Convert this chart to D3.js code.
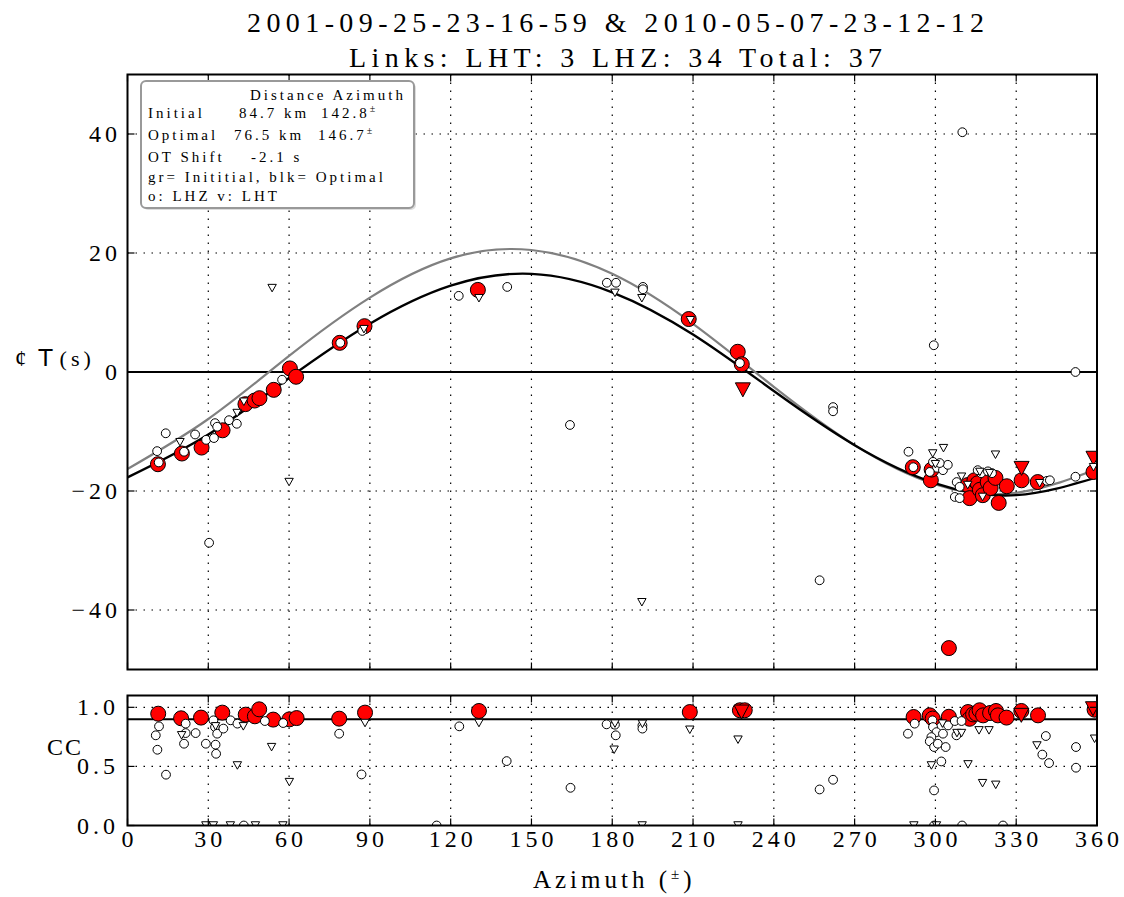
<!DOCTYPE html>
<html>
<head>
<meta charset="utf-8">
<script src="https://cdn.jsdelivr.net/npm/d3@7"></script>
<style>
  body { margin: 0; background: #fff; }
  text { font-family: "Liberation Serif", "DejaVu Serif", serif; fill: #000; }
</style>
</head>
<body>
<script>
// title + legend text
var titleLines = ["2001-09-25-23-16-59 & 2010-05-07-23-12-12", "Links: LHT: 3 LHZ: 34 Total: 37"];

// x ticks (azimuth), y ticks
var azTicks = [0, 30, 60, 90, 120, 150, 180, 210, 240, 270, 300, 330, 360];
var dtTicks = [-40, -20, 0, 20, 40];
var ccTicks = [0.0, 0.5, 1.0];

// model curves, every 30 deg
var curveAz    = [0, 30, 60, 90, 120, 150, 180, 210, 240, 270, 300, 330, 360];
var initialDt  = [-16.3, -7.9, 2.7, 12.5, 19.1, 20.5, 16.5, 8.1, -2.5, -12.3, -18.9, -20.3, -16.3];
var optimalDt  = [-17.7, -10.5, -1.0, 8.1, 14.5, 16.5, 13.4, 6.3, -3.2, -12.3, -18.7, -20.7, -17.7];

// top panel: [azimuth, dT]
var redCircTop = [[11.3,-15.5],[20.2,-13.7],[27.5,-12.7],[35.3,-9.8],[43.8,-5.4],[47.2,-4.8],[49.0,-4.4],[54.3,-3.0],[60.3,0.6],[62.6,-0.8],
  [78.8,4.9],[88.0,7.7],[130.1,13.8],[208.4,8.9],[226.6,3.4],[228.1,1.3],[291.6,-16.0],[298.3,-18.2],[298.6,-16.4],[305.0,-46.4],
  [312.0,-19.0],[312.7,-21.2],[314.5,-18.2],[315.7,-18.7],[316.5,-19.8],[317.6,-20.7],[319.4,-18.5],[320.5,-19.5],[322.3,-17.8],
  [323.5,-22.0],[326.5,-19.2],[332.0,-18.2],[338.0,-18.5],[358.7,-16.8]];
var redTriTop = [[228.5,-3.0],[332.0,-16.2],[358.7,-14.5]];
var openCircTop = [[11.6,-15.2],[11.0,-13.3],[14.2,-10.3],[21.0,-13.4],[25.1,-10.5],[29.2,-11.4],[32.1,-11.1],[32.5,-8.6],[33.3,-9.2],
  [37.7,-8.1],[40.6,-8.7],[30.3,-28.7],[57.4,-1.3],[79.0,4.9],[87.2,6.9],[123.0,12.8],[141.0,14.3],[178.0,15.0],[181.4,15.0],
  [191.4,14.3],[191.4,13.9],[164.3,-8.9],[227.4,1.5],[262.0,-5.9],[262.0,-6.6],[257.0,-35.0],[299.4,4.5],[310.0,40.3],[352.0,0.0],
  [290.0,-13.4],[291.8,-16.0],[299.1,-15.1],[300.6,-16.1],[302.8,-16.5],[304.6,-15.6],[301.6,-15.3],[297.9,-16.8],[307.2,-21.0],[309.0,-21.2],
  [307.9,-18.5],[309.0,-19.3],[317.0,-17.0],[315.7,-16.5],[319.5,-16.7],[321.0,-17.0],[341.4,-18.3],[342.5,-18.2],[352.0,-17.6]];
var openTriTop = [[19.5,-11.8],[40.7,-6.9],[43.2,-5.0],[60.0,-18.5],[53.7,14.1],[87.8,7.2],[130.5,12.4],[181.0,13.3],[191.0,12.4],
  [209.0,8.7],[191.0,-38.7],[299.0,-13.7],[303.0,-12.8],[322.3,-13.9],[300.0,-15.5],[309.7,-17.6],[312.0,-19.0],[316.5,-16.8],
  [320.1,-17.0],[317.5,-21.0],[338.7,-18.7],[358.7,-16.0]];

// bottom panel: [azimuth, CC]
var redCircBot = [[11.4,0.946],[19.9,0.907],[27.3,0.913],[35.2,0.955],[43.9,0.938],[47.3,0.924],[48.9,0.983],[54.1,0.896],[60.1,0.898],
  [62.8,0.909],[78.6,0.904],[88.2,0.955],[130.5,0.969],[208.8,0.960],[227.4,0.975],[229.2,0.975],[291.9,0.918],[297.9,0.932],
  [299.0,0.905],[305.0,0.920],[312.1,0.960],[312.7,0.903],[314.0,0.940],[315.2,0.946],[316.4,0.975],[317.7,0.932],[320.3,0.952],
  [322.5,0.969],[323.2,0.932],[326.4,0.913],[331.9,0.969],[338.1,0.932],[359.1,0.980]];
var redTriBot = [[228.0,0.960],[331.9,0.932],[358.5,0.988]];
var openCircBot = [[11.7,0.839],[10.5,0.763],[11.1,0.641],[14.3,0.430],[21.6,0.862],[21.6,0.782],[21.0,0.692],[25.3,0.782],[29.1,0.692],
  [31.9,0.890],[32.5,0.833],[33.3,0.777],[32.7,0.684],[32.9,0.607],[35.6,0.820],[38.3,0.890],[40.8,0.862],[43.2,0.0],[51.0,0.884],
  [57.8,0.867],[78.6,0.777],[86.9,0.432],[114.8,0.0],[123.2,0.839],[140.8,0.545],[164.5,0.319],[177.9,0.856],[181.0,0.853],
  [181.3,0.763],[191.2,0.847],[191.2,0.820],[257.0,0.305],[262.0,0.387],[289.8,0.777],[292.3,0.862],[298.9,0.890],[299.1,0.833],
  [300.4,0.790],[298.5,0.748],[297.9,0.712],[299.5,0.664],[300.9,0.692],[303.8,0.664],[302.8,0.777],[302.2,0.542],[299.5,0.297],
  [304.7,0.847],[307.2,0.884],[307.8,0.763],[309.7,0.884],[341.0,0.757],[339.7,0.600],[342.2,0.528],[352.2,0.664],[352.2,0.489],
  [299.5,0.0],[309.9,0.0],[325.1,0.0]];
var openTriBot = [[20.1,0.763],[32.7,0.839],[43.0,0.839],[40.8,0.508],[53.5,0.663],[60.1,0.367],[88.2,0.867],[29.1,0.0],[31.9,0.0],
  [38.2,0.0],[47.5,0.0],[57.7,0.0],[130.5,0.867],[181.0,0.862],[180.7,0.641],[191.2,0.860],[208.8,0.810],[226.7,0.726],[191.1,0.0],
  [226.7,0.0],[302.6,0.862],[308.0,0.782],[309.7,0.782],[316.2,0.805],[319.9,0.805],[298.5,0.508],[312.1,0.517],[317.5,0.358],
  [322.4,0.344],[337.7,0.677],[359.1,0.734],[292.0,0.0],[300.4,0.0]];

// layout
var width = 1124, height = 897;
var left = 127.5, right = 1097;
var top1 = 74.5, bot1 = 669.5;
var top2 = 695.5, bot2 = 825.5;

var svg = d3.select("body").append("svg")
    .attr("width", width)
    .attr("height", height);

var x = d3.scaleLinear().domain([0, 360]).range([left, right]);
var yT = d3.scaleLinear().domain([-50, 50]).range([bot1, top1]);
var yB = d3.scaleLinear().domain([0, 1.1]).range([bot2, top2]);

// clip paths for the two panels
var defs = svg.append("defs");
defs.append("clipPath").attr("id", "clipTop").append("rect")
    .attr("x", left).attr("y", top1).attr("width", right - left).attr("height", bot1 - top1);
defs.append("clipPath").attr("id", "clipBot").append("rect")
    .attr("x", left).attr("y", top2).attr("width", right - left).attr("height", bot2 - top2);

// titles
svg.selectAll(".title")
  .data(titleLines)
  .enter().append("text")
    .attr("x", (left + right) / 2 + 6)
    .attr("y", function(d, i) { return i == 0 ? 32 : 67; })
    .attr("text-anchor", "middle")
    .attr("font-size", 28)
    .attr("letter-spacing", 5.4)
    .text(function(d) { return d; });

// grids
var dots = "1.5,6.5";
function grid(g, yScale, yTicks, y0, y1) {
  g.selectAll(".vg").data(azTicks.slice(1, -1)).enter().append("line")
    .attr("x1", function(d) { return x(d); }).attr("x2", function(d) { return x(d); })
    .attr("y1", y0).attr("y2", y1)
    .attr("stroke", "#000").attr("stroke-width", 1.2).attr("stroke-dasharray", dots);
  g.selectAll(".hg").data(yTicks).enter().append("line")
    .attr("x1", left).attr("x2", right)
    .attr("y1", function(d) { return yScale(d); }).attr("y2", function(d) { return yScale(d); })
    .attr("stroke", "#000").attr("stroke-width", 1.2).attr("stroke-dasharray", dots);
}
var gTop = svg.append("g");
grid(gTop, yT, dtTicks.filter(function(d) { return d != 0; }), top1, bot1);
var gBot = svg.append("g");
grid(gBot, yB, [0.5, 1.0], top2, bot2);

// zero line and cc threshold line
gTop.append("line").attr("x1", left).attr("x2", right).attr("y1", yT(0)).attr("y2", yT(0))
    .attr("stroke", "#000").attr("stroke-width", 2);
gBot.append("line").attr("x1", left).attr("x2", right).attr("y1", yB(0.9)).attr("y2", yB(0.9))
    .attr("stroke", "#000").attr("stroke-width", 2);

// curves
var line = d3.line()
    .x(function(d) { return x(d[0]); })
    .y(function(d) { return yT(d[1]); })
    .curve(d3.curveNatural);
var plotTop = svg.append("g").attr("clip-path", "url(#clipTop)");
plotTop.append("path")
    .datum(curveAz.map(function(a, i) { return [a, initialDt[i]]; }))
    .attr("d", line).attr("fill", "none").attr("stroke", "#808080").attr("stroke-width", 2.2);
plotTop.append("path")
    .datum(curveAz.map(function(a, i) { return [a, optimalDt[i]]; }))
    .attr("d", line).attr("fill", "none").attr("stroke", "#000").attr("stroke-width", 2.4);

var plotBot = svg.append("g").attr("clip-path", "url(#clipBot)");

// markers
function triPath(a, h) {
  return "M" + (-a) + "," + (-h / 2) + "L" + a + "," + (-h / 2) + "L0," + (h / 2) + "Z";
}
function circles(g, data, yScale, r, fill) {
  g.append("g").selectAll("circle").data(data).enter().append("circle")
    .attr("cx", function(d) { return x(d[0]); })
    .attr("cy", function(d) { return yScale(d[1]); })
    .attr("r", r).attr("fill", fill).attr("stroke", "#000").attr("stroke-width", 1);
}
function tris(g, data, yScale, a, h, fill) {
  g.append("g").selectAll("path").data(data).enter().append("path")
    .attr("d", triPath(a, h))
    .attr("transform", function(d) { return "translate(" + x(d[0]) + "," + yScale(d[1]) + ")"; })
    .attr("fill", fill).attr("stroke", "#000").attr("stroke-width", 1);
}

circles(plotTop, redCircTop, yT, 7.5, "#ff0000");
tris(plotTop, redTriTop, yT, 7.5, 14, "#ff0000");
circles(plotTop, openCircTop, yT, 4.4, "#fff");
tris(plotTop, openTriTop, yT, 4.2, 7.5, "#fff");

circles(plotBot, redCircBot, yB, 7.5, "#ff0000");
tris(plotBot, redTriBot, yB, 7.5, 14, "#ff0000");
circles(plotBot, openCircBot, yB, 4.4, "#fff");
tris(plotBot, openTriBot, yB, 4.2, 7.5, "#fff");

// axes frames + inward ticks
function frame(yScale, yTicks, y0, y1) {
  var g = svg.append("g");
  g.append("rect").attr("x", left).attr("y", y0).attr("width", right - left).attr("height", y1 - y0)
    .attr("fill", "none").attr("stroke", "#000").attr("stroke-width", 2);
  azTicks.forEach(function(d) {
    g.append("line").attr("x1", x(d)).attr("x2", x(d)).attr("y1", y0).attr("y2", y0 + 7)
      .attr("stroke", "#000").attr("stroke-width", 1.2);
    g.append("line").attr("x1", x(d)).attr("x2", x(d)).attr("y1", y1).attr("y2", y1 - 7)
      .attr("stroke", "#000").attr("stroke-width", 1.2);
  });
  yTicks.forEach(function(d) {
    g.append("line").attr("x1", left).attr("x2", left + 7).attr("y1", yScale(d)).attr("y2", yScale(d))
      .attr("stroke", "#000").attr("stroke-width", 1.2);
    g.append("line").attr("x1", right).attr("x2", right - 7).attr("y1", yScale(d)).attr("y2", yScale(d))
      .attr("stroke", "#000").attr("stroke-width", 1.2);
  });
  return g;
}
frame(yT, dtTicks, top1, bot1);
frame(yB, ccTicks, top2, bot2);

// tick labels
var tickFont = 24, tickLs = 4;
svg.append("g").selectAll("text").data(azTicks).enter().append("text")
    .attr("x", function(d) { return x(d) + tickLs / 2; })
    .attr("y", 847)
    .attr("text-anchor", "middle")
    .attr("font-size", tickFont).attr("letter-spacing", tickLs)
    .text(function(d) { return d; });
svg.append("g").selectAll("text").data(dtTicks).enter().append("text")
    .attr("x", 117 + tickLs)
    .attr("y", function(d) { return yT(d) + 8; })
    .attr("text-anchor", "end")
    .attr("font-size", tickFont).attr("letter-spacing", tickLs)
    .text(function(d) { return d < 0 ? "\u2212" + Math.abs(d) : d; });
svg.append("g").selectAll("text").data(ccTicks).enter().append("text")
    .attr("x", 115 + tickLs)
    .attr("y", function(d) { return yB(d) + 8; })
    .attr("text-anchor", "end")
    .attr("font-size", tickFont).attr("letter-spacing", tickLs)
    .text(function(d) { return d.toFixed(1); });

// axis labels
var xl = svg.append("text")
    .attr("x", (left + right) / 2 + 2)
    .attr("y", 888)
    .attr("text-anchor", "middle")
    .attr("font-size", 25).attr("letter-spacing", 4);
xl.append("tspan").text("Azimuth (");
xl.append("tspan").attr("font-size", 15).attr("dy", -9).text("\u00b1");
xl.append("tspan").attr("dy", 9).text(")");

var yl = svg.append("text").attr("x", 15).attr("y", 366).attr("font-size", 23);
yl.append("tspan").text("\u00a2");
yl.append("tspan").attr("font-family", "DejaVu Sans").attr("dx", 12).text("T");
yl.append("tspan").attr("dx", 7).attr("font-size", 22).attr("letter-spacing", 4).text("(s)");

svg.append("text").attr("x", 47).attr("y", 755)
    .attr("font-size", 24).attr("letter-spacing", 2).text("CC");

// legend box
var lg = svg.append("g");
lg.append("rect").attr("x", 143).attr("y", 83).attr("width", 273).attr("height", 127).attr("rx", 5)
    .attr("fill", "#bbb").attr("opacity", 0.5);
lg.append("rect").attr("x", 141).attr("y", 81).attr("width", 273).attr("height", 127).attr("rx", 5)
    .attr("fill", "#fff").attr("stroke", "#999").attr("stroke-width", 2);

var legendRows = [
  { y: 100, parts: [[250, "Distance  Azimuth"]] },
  { y: 118, parts: [[148, "Initial"], [239, "84.7 km"], [321, "142.8"]], deg: true },
  { y: 140, parts: [[148, "Optimal"], [234, "76.5 km"], [318, "146.7"]], deg: true },
  { y: 162, parts: [[148, "OT Shift"], [251, "-2.1 s"]] },
  { y: 182, parts: [[148, "gr= Inititial, blk= Optimal"]] },
  { y: 201, parts: [[148, "o: LHZ v: LHT"]] }
];
legendRows.forEach(function(row) {
  row.parts.forEach(function(p, i) {
    var t = lg.append("text").attr("x", p[0]).attr("y", row.y)
      .attr("font-size", 15).attr("letter-spacing", 3).text(p[1]);
    if (row.deg && i == row.parts.length - 1) {
      t.append("tspan").attr("font-size", 10).attr("dy", -6).text("\u00b1");
    }
  });
});
</script>
</body>
</html>
